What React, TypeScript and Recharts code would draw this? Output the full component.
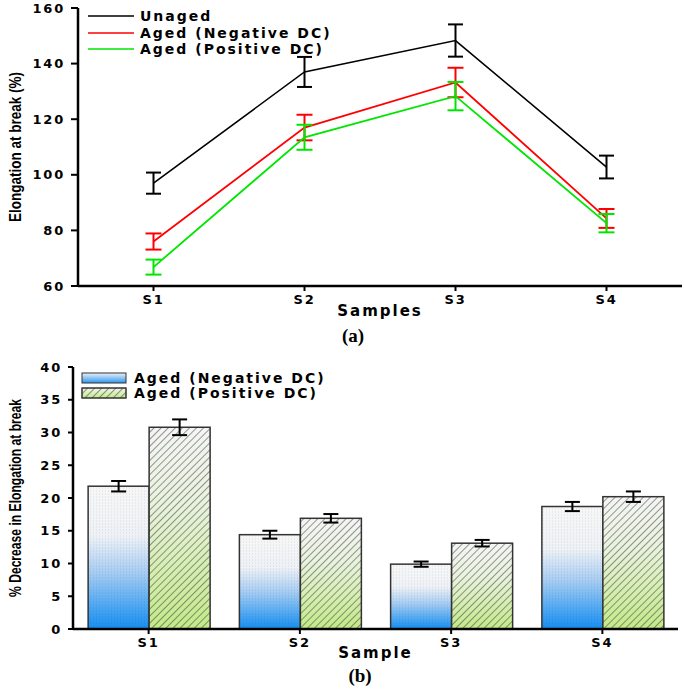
import React from 'react';
import { LineChart, Line, BarChart, Bar, XAxis, YAxis, ErrorBar, Legend } from 'recharts';

const samples = ['S1', 'S2', 'S3', 'S4'];

// (a) elongation at break (%)
const unaged = [97, 137, 148.3, 102.8];
const unagedErr = [3.8, 5.4, 5.8, 4.1];
const agedNeg = [76, 117, 133.2, 84.3];
const agedNegErr = [2.9, 4.6, 5.3, 3.4];
const agedPos = [66.8, 113.5, 128.3, 82.6];
const agedPosErr = [2.7, 4.5, 5.1, 3.3];
const elongTicks = [60, 80, 100, 120, 140, 160];

// (b) % decrease in elongation at break
const decNeg = [21.8, 14.4, 9.9, 18.7];
const decNegErr = [0.8, 0.6, 0.4, 0.7];
const decPos = [30.8, 16.9, 13.1, 20.2];
const decPosErr = [1.2, 0.65, 0.5, 0.8];
const decTicks = [0, 5, 10, 15, 20, 25, 30, 35, 40];

const lineData = samples.map((s, i) => ({
  sample: s,
  unaged: unaged[i], unagedErr: unagedErr[i],
  neg: agedNeg[i], negErr: agedNegErr[i],
  pos: agedPos[i], posErr: agedPosErr[i],
}));

const barData = samples.map((s, i) => ({
  sample: s,
  neg: decNeg[i], negErr: decNegErr[i],
  pos: decPos[i], posErr: decPosErr[i],
}));

const tickFont = { fill: '#000', fontSize: 13, fontWeight: 'bold', fontFamily: 'DejaVu Sans', letterSpacing: 1.8 };
const legendFont: React.CSSProperties = { fontFamily: 'DejaVu Sans', fontWeight: 'bold', fontSize: 14, letterSpacing: 2, color: '#000' };

// rotated axis title squeezed to the width it has in the figure
const VLabel = (props: any) => {
  const { viewBox, text, len } = props;
  const cx = viewBox.x + 15;
  const cy = viewBox.y + viewBox.height / 2;
  return (
    <text x={cx} y={cy} transform={`rotate(-90, ${cx}, ${cy})`} textAnchor="middle" dominantBaseline="central"
      textLength={len} lengthAdjust="spacingAndGlyphs"
      fontFamily="Liberation Sans" fontWeight="bold" fontSize={16} fill="#000">{text}</text>
  );
};

const XLabel = (props: any) => {
  const { viewBox, text, dy } = props;
  return (
    <text x={viewBox.x + viewBox.width / 2} y={viewBox.y + dy} textAnchor="middle"
      fontFamily="DejaVu Sans" fontWeight="bold" fontSize={15} letterSpacing={2} fill="#000">{text}</text>
  );
};

const lineSeries = [
  { name: 'Unaged', color: '#000000' },
  { name: 'Aged (Negative DC)', color: '#ff0000' },
  { name: 'Aged (Positive DC)', color: '#00e600' },
];

const LineLegend = () => (
  <div>
    {lineSeries.map((s) => (
      <div key={s.name} style={{ display: 'flex', alignItems: 'center', height: 16.5 }}>
        <svg width={52} height={4}><line x1={0} x2={46} y1={2} y2={2} stroke={s.color} strokeWidth={1.6} /></svg>
        <span style={legendFont}>{s.name}</span>
      </div>
    ))}
  </div>
);

const BarLegend = () => (
  <div>
    {[{ name: 'Aged (Negative DC)', kind: 'neg' }, { name: 'Aged (Positive DC)', kind: 'pos' }].map((s) => (
      <div key={s.name} style={{ display: 'flex', alignItems: 'center', height: 15 }}>
        <svg width={53} height={12}>
          <rect x={1} y={1} width={44} height={10} fill={s.kind === 'neg' ? 'url(#legBlue)' : 'url(#legGreen)'} stroke="#333" strokeWidth={1} />
          {s.kind === 'pos' && <rect x={1} y={1} width={44} height={10} fill="url(#hatch)" stroke="#333" strokeWidth={1} />}
        </svg>
        <span style={legendFont}>{s.name}</span>
      </div>
    ))}
  </div>
);

const NegBar = (props: any) => {
  const { x, y, width, height } = props;
  if (!height) return null;
  return (
    <g>
      <rect x={x} y={y} width={width} height={height} fill="url(#blueGrad)" />
      <rect x={x} y={y} width={width} height={height} fill="url(#vstripe)" />
      <rect x={x} y={y} width={width} height={height} fill="none" stroke="#333" strokeWidth={1.5} />
    </g>
  );
};

const PosBar = (props: any) => {
  const { x, y, width, height } = props;
  if (!height) return null;
  return (
    <g>
      <rect x={x} y={y} width={width} height={height} fill="url(#greenGrad)" />
      <rect x={x} y={y} width={width} height={height} fill="url(#hatch)" />
      <rect x={x} y={y} width={width} height={height} fill="none" stroke="#333" strokeWidth={1.5} />
    </g>
  );
};

export default function App() {
  return (
    <div style={{ position: 'absolute', left: 0, top: 0, width: 685, height: 694, background: '#fff' }}>
      <svg width={0} height={0} style={{ position: 'absolute' }}>
        <defs>
          <linearGradient id="blueGrad" x1="0" y1="0" x2="0" y2="1">
            <stop offset="0" stopColor="#f7f7f7" />
            <stop offset="0.35" stopColor="#eef1f6" />
            <stop offset="0.6" stopColor="#a8cdf3" />
            <stop offset="0.85" stopColor="#4aa6f2" />
            <stop offset="1" stopColor="#168ef0" />
          </linearGradient>
          <linearGradient id="greenGrad" x1="0" y1="0" x2="0" y2="1">
            <stop offset="0" stopColor="#f5f5f5" />
            <stop offset="0.4" stopColor="#e8f2dc" />
            <stop offset="1" stopColor="#c3ea88" />
          </linearGradient>
          <linearGradient id="legBlue" x1="0" y1="0" x2="0" y2="1">
            <stop offset="0" stopColor="#eef2f8" />
            <stop offset="1" stopColor="#2a95f0" />
          </linearGradient>
          <linearGradient id="legGreen" x1="0" y1="0" x2="0" y2="1">
            <stop offset="0" stopColor="#f2f5ec" />
            <stop offset="1" stopColor="#c3ea88" />
          </linearGradient>
          <pattern id="hatch" patternUnits="userSpaceOnUse" width={5} height={5} patternTransform="rotate(45)">
            <line x1={0} y1={0} x2={0} y2={5} stroke="#333" strokeWidth={1} />
          </pattern>
          <pattern id="vstripe" patternUnits="userSpaceOnUse" width={3} height={3}>
            <rect x={0} y={0} width={1} height={2} fill="#000" opacity={0.05} />
          </pattern>
        </defs>
      </svg>

      <div style={{ position: 'absolute', left: 0, top: 0 }}>
        <LineChart width={685} height={320} data={lineData} margin={{ top: 8, right: 3, left: 0, bottom: 0 }}>
          <XAxis dataKey="sample" scale="band" axisLine={{ stroke: '#000', strokeWidth: 2.5 }} tickLine={{ stroke: '#000', strokeWidth: 2 }}
            tickSize={5} tickMargin={4} tick={tickFont} height={34}
            label={<XLabel text="Samples" dy={30} />} />
          <XAxis xAxisId="top" dataKey="sample" scale="band" orientation="top" tick={false} tickLine={false} height={0}
            axisLine={{ stroke: '#222', strokeWidth: 1.5 }} />
          <YAxis domain={[60, 160]} ticks={elongTicks} width={78} axisLine={{ stroke: '#000', strokeWidth: 2.5 }}
            tickLine={{ stroke: '#000', strokeWidth: 2 }} tickSize={7} tickMargin={6} tick={tickFont}
            label={<VLabel text="Elongation at break (%)" len={150} />} />
          <YAxis yAxisId="right" orientation="right" width={0} tick={false} tickLine={false}
            axisLine={{ stroke: '#222', strokeWidth: 1.5 }} />
          <Legend layout="vertical" align="center" verticalAlign="middle" wrapperStyle={{ left: 88, top: 8, width: 320 }}
            content={() => <LineLegend />} />
          <Line type="linear" dataKey="unaged" stroke="#000" strokeWidth={1.6} dot={false} isAnimationActive={false}>
            <ErrorBar dataKey="unagedErr" direction="y" width={7.5} stroke="#000" strokeWidth={2} />
          </Line>
          <Line type="linear" dataKey="neg" stroke="#ff0000" strokeWidth={1.8} dot={false} isAnimationActive={false}>
            <ErrorBar dataKey="negErr" direction="y" width={8} stroke="#ff0000" strokeWidth={2} />
          </Line>
          <Line type="linear" dataKey="pos" stroke="#00e600" strokeWidth={1.8} dot={false} isAnimationActive={false}>
            <ErrorBar dataKey="posErr" direction="y" width={8} stroke="#00e600" strokeWidth={2} />
          </Line>
        </LineChart>
      </div>
      <div style={{ position: 'absolute', left: 338, top: 325, width: 30, textAlign: 'center', fontFamily: 'Liberation Serif', fontWeight: 'bold', fontSize: 19 }}>(a)</div>

      <div style={{ position: 'absolute', left: 0, top: 355 }}>
        <BarChart width={685} height={306} data={barData} margin={{ top: 12, right: 7, left: 0, bottom: 0 }}
          barCategoryGap="10%" barGap={0}>
          <XAxis dataKey="sample" axisLine={{ stroke: '#000', strokeWidth: 2.5 }} tickLine={{ stroke: '#000', strokeWidth: 2 }}
            tickSize={5} tickMargin={4} tick={tickFont} height={32}
            label={<XLabel text="Sample" dy={29} />} />
          <XAxis xAxisId="top" dataKey="sample" orientation="top" tick={false} tickLine={false} height={0}
            axisLine={{ stroke: '#222', strokeWidth: 1.5 }} />
          <YAxis domain={[0, 40]} ticks={decTicks} width={73} axisLine={{ stroke: '#000', strokeWidth: 2.5 }}
            tickLine={{ stroke: '#000', strokeWidth: 2 }} tickSize={5} tickMargin={6} tick={tickFont}
            label={<VLabel text="% Decrease in Elongation at break" len={198} />} />
          <YAxis yAxisId="right" orientation="right" width={0} tick={false} tickLine={false}
            axisLine={{ stroke: '#222', strokeWidth: 1.5 }} />
          <Legend layout="vertical" align="center" verticalAlign="middle" wrapperStyle={{ left: 81, top: 15, width: 320 }}
            content={() => <BarLegend />} />
          <Bar dataKey="neg" shape={<NegBar />} isAnimationActive={false}>
            <ErrorBar dataKey="negErr" direction="y" width={7.5} stroke="#000" strokeWidth={2} />
          </Bar>
          <Bar dataKey="pos" shape={<PosBar />} isAnimationActive={false}>
            <ErrorBar dataKey="posErr" direction="y" width={7.5} stroke="#000" strokeWidth={2} />
          </Bar>
        </BarChart>
      </div>
      <div style={{ position: 'absolute', left: 345, top: 665, width: 30, textAlign: 'center', fontFamily: 'Liberation Serif', fontWeight: 'bold', fontSize: 19 }}>(b)</div>
    </div>
  );
}
